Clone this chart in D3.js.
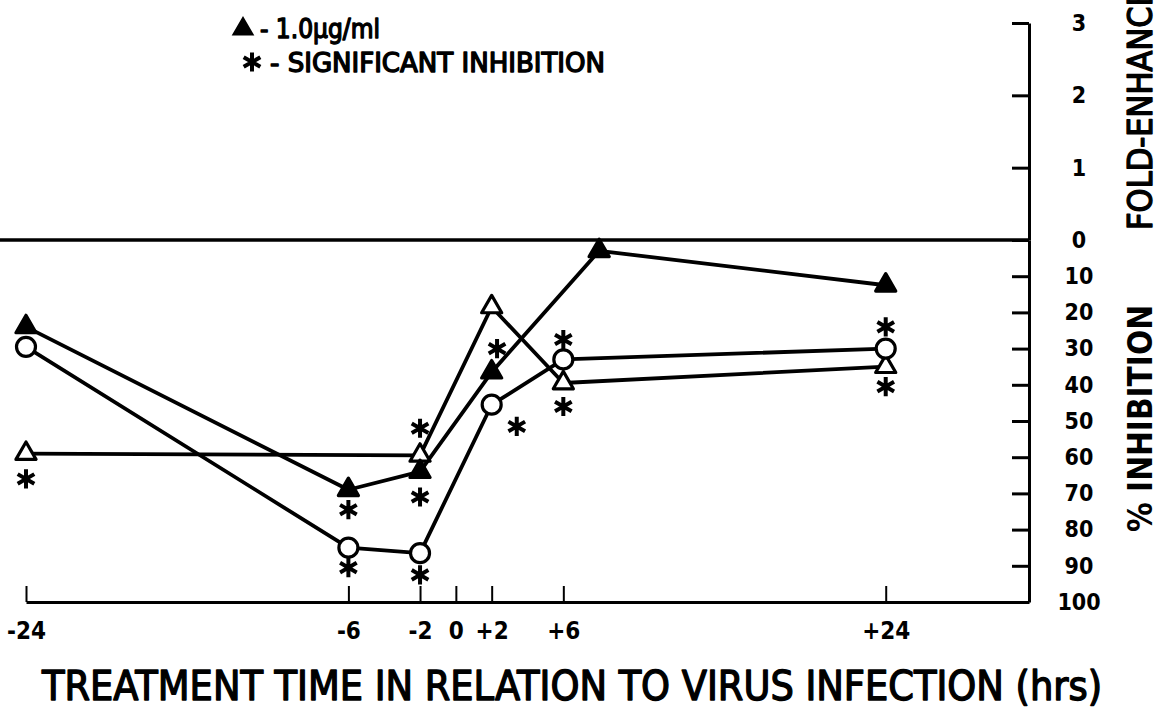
<!DOCTYPE html>
<html>
<head>
<meta charset="utf-8">
<script src="https://cdn.jsdelivr.net/npm/d3@7"></script>
<style>
  html, body { margin: 0; padding: 0; background: #fff; }
  svg { display: block; }
  text { font-family: "DejaVu Sans Condensed", "DejaVu Sans", sans-serif; fill: #000; }
  .lettered { stroke: #000; stroke-width: 1.3px; stroke-linejoin: round; }
</style>
</head>
<body>
<svg id="chart" width="1161" height="708"></svg>
<script>
// Treatment times (hrs relative to virus infection) and % inhibition per dose series
const filledTimes = [-24, -6, -2, 2, 8, 24];          // ▲ 1.0 µg/ml
const filledInhib = [24, 69, 64, 36.5, 3, 12.5];
const circleTimes = [-24, -6, -2, 2, 6, 24];          // ○
const circleInhib = [29.5, 85, 86.5, 45.5, 33, 30];
const openTimes   = [-24, -2, 2, 6, 24];              // △
const openInhib   = [59, 59.5, 18.5, 39.5, 35];

// Points marked as significant inhibition (✱)
const sigTimes = [-24, -6, -6, -2, -2, -2, 2.3, 3.4, 6, 6, 24, 24];
const sigInhib = [66, 74.5, 90.5, 52, 71, 92.5, 30, 51.5, 27.5, 46, 24, 40.5];

// Axis ticks
const timeTicks   = [-24, -6, -2, 0, 2, 6, 24];
const timeLabels  = ["-24", "-6", "-2", "0", "+2", "+6", "+24"];
const inhibTicks  = [0, 10, 20, 30, 40, 50, 60, 70, 80, 90, 100];
const foldTicks   = [1, 2, 3];

const svg = d3.select("#chart");

const x = d3.scaleLinear().domain([-24, 32]).range([26, 1029]);
const yInhib = d3.scaleLinear().domain([0, 100]).range([240, 602]);
const yFold  = d3.scaleLinear().domain([0, 3]).range([240, 23]);

const axisStroke = 3;

// Bottom time axis, ticks pointing up into the plot
const xAxis = d3.axisBottom(x)
  .tickValues(timeTicks)
  .tickFormat((d, i) => timeLabels[i])
  .tickSizeInner(-16)
  .tickSizeOuter(0)
  .tickPadding(20);
const gx = svg.append("g").attr("transform", `translate(0,${yInhib(100)})`).call(xAxis);
gx.select(".domain").attr("stroke-width", axisStroke);
gx.selectAll(".tick line").attr("stroke-width", 2);
gx.selectAll(".tick text").attr("font-size", 24).attr("font-weight", "bold").style("font-family", null);

// Right axis: % inhibition below zero, fold-enhancement above
function styleRight(g) {
  g.select(".domain").attr("stroke-width", axisStroke);
  g.selectAll(".tick line").attr("stroke-width", axisStroke);
  g.selectAll(".tick text")
    .attr("font-size", 23)
    .attr("font-weight", "bold")
    .attr("text-anchor", "middle")
    .attr("x", 50)
    .style("font-family", null);
}
const gyI = svg.append("g").attr("transform", `translate(${x(32)},0)`)
  .call(d3.axisRight(yInhib).tickValues(inhibTicks).tickFormat(d3.format("d"))
    .tickSizeInner(-17).tickSizeOuter(0).tickPadding(0));
styleRight(gyI);
gyI.selectAll(".tick").filter(d => d === 100).select("line").remove();
const gyF = svg.append("g").attr("transform", `translate(${x(32)},0)`)
  .call(d3.axisRight(yFold).tickValues(foldTicks).tickFormat(d3.format("d"))
    .tickSizeInner(-17).tickSizeOuter(0).tickPadding(0));
styleRight(gyF);
svg.selectAll(".domain").attr("fill", "none");
svg.selectAll("g text").attr("fill", "#000");

// Zero reference line across the plot
svg.append("line")
  .attr("x1", 0).attr("x2", x(32))
  .attr("y1", yInhib(0)).attr("y2", yInhib(0))
  .attr("stroke", "#000").attr("stroke-width", 3.5);

// Series lines
const line = d3.line().x(d => x(d[0])).y(d => yInhib(d[1]));
const series = [
  { t: openTimes, v: openInhib, kind: "openTri" },
  { t: circleTimes, v: circleInhib, kind: "circle" },
  { t: filledTimes, v: filledInhib, kind: "filledTri" }
];
series.forEach(s => {
  const pts = s.t.map((t, i) => [t, s.v[i]]);
  svg.append("path").datum(pts)
    .attr("d", line)
    .attr("fill", "none")
    .attr("stroke", "#000")
    .attr("stroke-width", 3.8)
    .attr("stroke-linejoin", "round");
});

// Markers
const triPath = d3.symbol(d3.symbolTriangle, 175)();
series.forEach(s => {
  const pts = s.t.map((t, i) => [t, s.v[i]]);
  const g = svg.append("g");
  if (s.kind === "circle") {
    g.selectAll("circle").data(pts).join("circle")
      .attr("cx", d => x(d[0])).attr("cy", d => yInhib(d[1]))
      .attr("r", 9.5)
      .attr("fill", "#fff").attr("stroke", "#000").attr("stroke-width", 3.2);
  } else {
    g.selectAll("path").data(pts).join("path")
      .attr("d", triPath)
      .attr("transform", d => `translate(${x(d[0])},${yInhib(d[1])})`)
      .attr("fill", s.kind === "filledTri" ? "#000" : "#fff")
      .attr("stroke", "#000").attr("stroke-width", 3.2).attr("stroke-linejoin", "round");
  }
});

// Significance asterisks
const astPath = d3.symbol(d3.symbolAsterisk, 260)();
svg.append("g").selectAll("path")
  .data(sigTimes.map((t, i) => [t, sigInhib[i]]))
  .join("path")
  .attr("d", astPath)
  .attr("transform", d => `translate(${x(d[0])},${yInhib(d[1])})`)
  .attr("fill", "none").attr("stroke", "#000").attr("stroke-width", 4);

// Legend
const legend = svg.append("g");
legend.append("path").attr("d", d3.symbol(d3.symbolTriangle, 160)())
  .attr("transform", "translate(243,29)").attr("fill", "#000").attr("stroke", "#000").attr("stroke-width", 2);
legend.append("text").attr("class", "lettered").attr("x", 260).attr("y", 38).attr("font-size", 26)
  .attr("textLength", 120).attr("lengthAdjust", "spacingAndGlyphs")
  .text("-  1.0µg/ml");
legend.append("path").attr("d", astPath)
  .attr("transform", "translate(252,62)").attr("fill", "none").attr("stroke", "#000").attr("stroke-width", 4);
legend.append("text").attr("class", "lettered").attr("x", 270).attr("y", 72).attr("font-size", 26)
  .attr("textLength", 335).attr("lengthAdjust", "spacingAndGlyphs")
  .text("- SIGNIFICANT INHIBITION");

// Axis titles
svg.append("text").attr("class", "lettered")
  .attr("transform", "translate(572,700)")
  .attr("text-anchor", "middle")
  .attr("font-size", 40)
  .attr("textLength", 1060).attr("lengthAdjust", "spacingAndGlyphs")
  .text("TREATMENT  TIME IN RELATION TO VIRUS INFECTION (hrs)");

svg.append("text")
  .attr("transform", "translate(1152,532) rotate(-90)")
  .attr("font-size", 34).attr("font-weight", "bold")
  .attr("textLength", 227).attr("lengthAdjust", "spacingAndGlyphs")
  .text("% INHIBITION");

svg.append("text").attr("class", "lettered")
  .attr("transform", "translate(1152,230) rotate(-90)")
  .attr("font-size", 34)
  .text("FOLD-ENHANCEMENT");
</script>
</body>
</html>
